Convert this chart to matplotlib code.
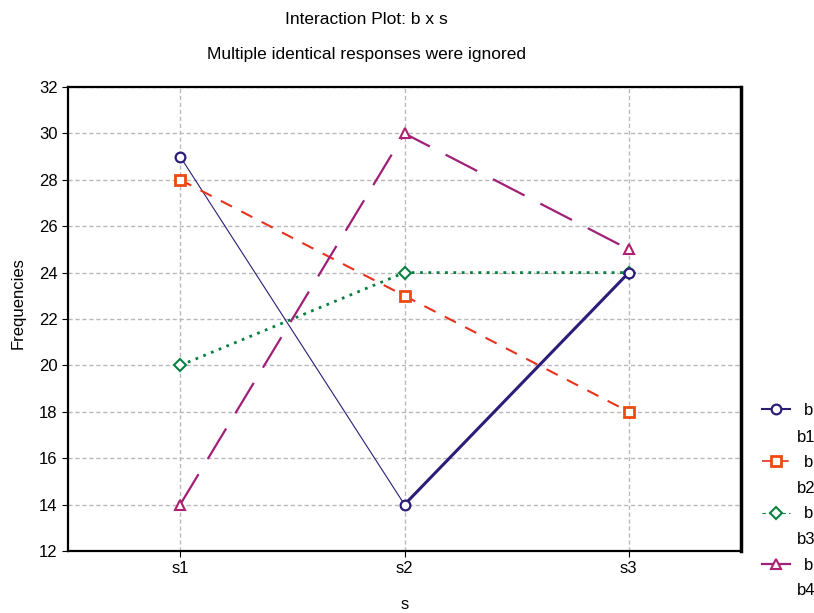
import matplotlib
matplotlib.use("Agg")
import matplotlib.pyplot as plt
from matplotlib.lines import Line2D

categories = ["s1", "s2", "s3"]
b1 = [29, 14, 24]
b2 = [28, 23, 18]
b3 = [20, 24, 24]
b4 = [14, 30, 25]
factor_name = "b"
series_names = ["b1", "b2", "b3", "b4"]
yticks = list(range(12, 33, 2))

plt.rcParams['font.family'] = ['Liberation Sans', 'DejaVu Sans']

fig = plt.figure(figsize=(8.14, 6.13), dpi=100)
ax = fig.add_axes([68/814, 1-551/613, (741-68)/814, (551-87)/613])

x = list(range(len(categories)))
c1, c2, c3, c4 = '#2d1c78', '#e8321e', '#0a8040', '#a02078'
# b1: thin first segment, thick second segment (as in the reference)
ax.plot(x[:2], b1[:2], color=c1, lw=0.8, zorder=2)
ax.plot(x[1:], b1[1:], color=c1, lw=2.2, zorder=2)
ax.plot(x, b1, ls='none', marker='o', ms=7, mfc='white', mec=c1, mew=1.6, zorder=4)
ax.plot(x, b2, color=c2, lw=1.5, ls=(0, (6, 5)), marker='s', ms=7, mfc='white', mec='#ee4a10', mew=2, zorder=3)
ax.plot(x, b3, color=c3, lw=2, ls=(0, (1, 2)), marker='D', ms=6, mfc='white', mec=c3, mew=1.5, zorder=3)
ax.plot(x, b4, color=c4, lw=1.6, ls=(0, (16, 8)), marker='^', ms=7, mfc='white', mec='#b02070', mew=1.5, zorder=3)

ax.set_xlim(-0.5, 2.5)
ax.set_ylim(12, 32)
ax.set_xticks(x)
ax.set_xticklabels(categories)
ax.set_yticks(yticks)
ax.tick_params(labelsize=12, direction='out', length=4)
ax.grid(True, color='#b8b8c0', ls=(0, (3, 2)), lw=1)
for sp in ax.spines.values():
    sp.set_linewidth(1.6)
ax.spines['right'].set_linewidth(2.5)
ax.set_xlabel("s", fontsize=12, labelpad=15)
ax.set_ylabel("Frequencies", fontsize=12)
ax.yaxis.set_label_coords(-0.063, 0.535)

fig.text(0.45, 1-19/613, "Interaction Plot: b x s", ha='center', va='center', fontsize=12.5)
fig.text(0.45, 1-55/613, "Multiple identical responses were ignored", ha='center', va='center', fontsize=12.5)

# legend: each series shows the factor name next to its key, the level name below
styles = [
    dict(color=c1, lw=1.5, marker='o', ms=7, mfc='white', mec=c1, mew=1.6),
    dict(color=c2, lw=1.2, ls=(0, (6, 4)), marker='s', ms=7, mfc='white', mec='#ee4a10', mew=2),
    dict(color=c3, lw=0.8, ls=(0, (3, 3)), marker='D', ms=6, mfc='white', mec=c3, mew=1.5),
    dict(color=c4, lw=1.6, marker='^', ms=7, mfc='white', mec='#b02070', mew=1.5),
]
handles = [Line2D([], [], **st) for st in styles]
fig.legend(handles, [factor_name] * len(handles), loc='upper left',
           bbox_to_anchor=(762/814, 1-403/613), frameon=False,
           fontsize=12, handlelength=1.7, labelspacing=2.2, handletextpad=0.8, borderpad=0,
           borderaxespad=0)
row_top, row_step = 437, 51.3
for i, name in enumerate(series_names):
    fig.text(797/814, 1-(row_top + i*row_step)/613, name, ha='left', va='center', fontsize=12)

fig.savefig("out.png", dpi=100)
